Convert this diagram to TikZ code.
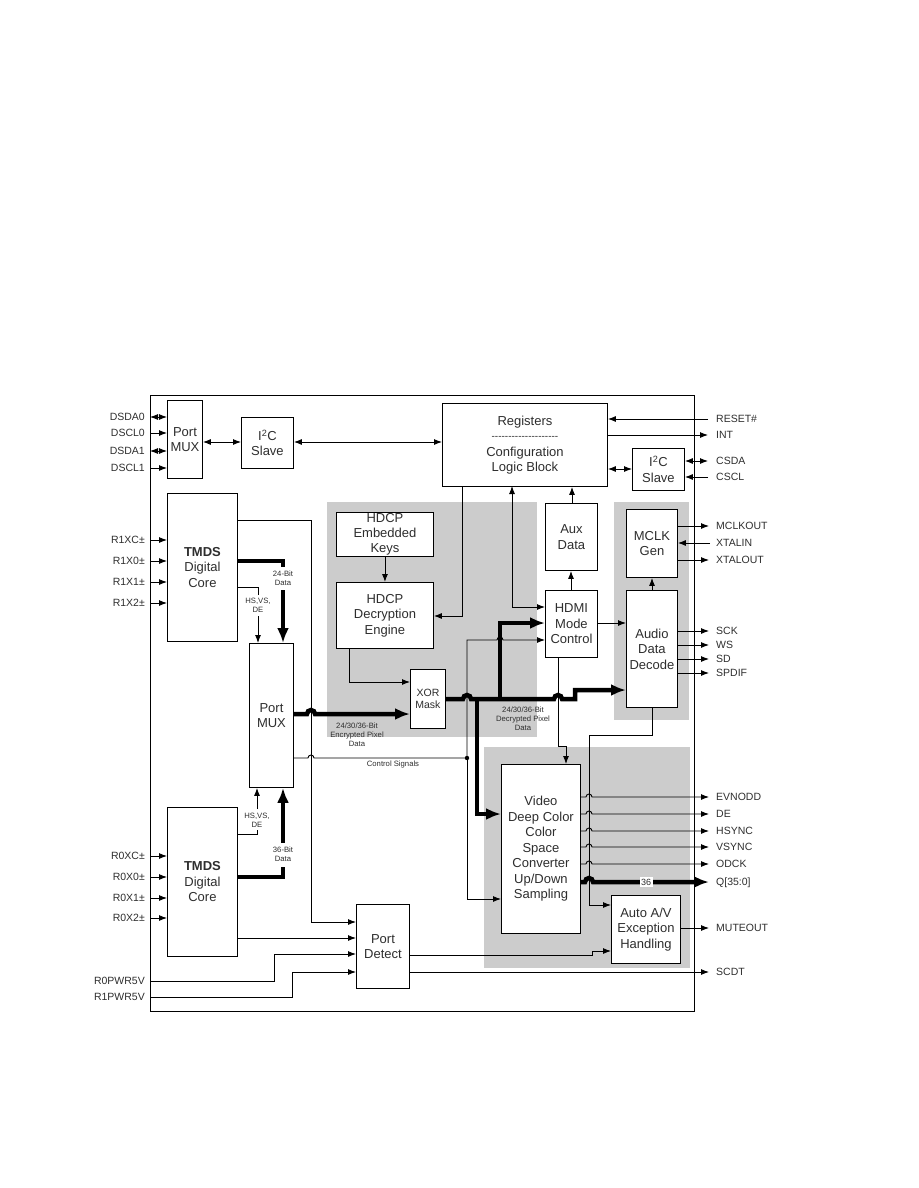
\documentclass[tikz,border=0pt]{standalone}
\usepackage{fontspec}
\setmainfont{Liberation Sans}
\usetikzlibrary{arrows.meta}
\definecolor{txt}{HTML}{2E2E2E}
\definecolor{shadegray}{HTML}{CCCCCC}
\newcommand\dsh{-\kern0pt}
\begin{document}
\begin{tikzpicture}[x=1pt,y=-1pt,
  box/.style={draw, line width=0.9pt, fill=white, inner sep=0pt, anchor=north west, align=center, text=txt, font=\fontsize{13}{15.5}\selectfont},
  ln/.style={line width=0.9pt},
  arr/.style={ln,-{Latex[length=8pt,width=6pt]}},
  barr/.style={ln,{Latex[length=8pt,width=6pt]}-{Latex[length=8pt,width=6pt]}},
  thk/.style={line width=4.5pt},
  tarr/.style={thk,-{Latex[length=15pt,width=12pt]}},
  pinL/.style={anchor=base east, yshift=-3.8pt, text=txt, font=\fontsize{10.5}{12}\selectfont, inner sep=0pt},
  pinR/.style={anchor=base west, yshift=-3.8pt, text=txt, font=\fontsize{10.5}{12}\selectfont, inner sep=0pt},
  small/.style={align=center, text=txt, font=\fontsize{7.7}{9.2}\selectfont, inner sep=0pt},
  region/.style={fill=shadegray, draw=none}
]
\useasboundingbox (0,0) rectangle (918,1188);
% shaded regions
\fill[region] (327,502) rectangle (537,737);
\fill[region] (614,502) rectangle (689,720);
\fill[region] (484,747) rectangle (690,968);
% frame
\draw[ln] (150,395) rectangle (694,1011);

% boxes
\node[box, minimum width=35pt, minimum height=78pt] (pm1) at (167,400) {Port\\MUX};
\node[box, minimum width=52pt, minimum height=51pt] (i2c1) at (241,417) {I\textsuperscript{2}C\\Slave};
\node[box, minimum width=165pt, minimum height=83pt] (regs) at (442,403) {Registers\\[-1pt]{\fontsize{10}{10}\selectfont\dsh\dsh\dsh\dsh\dsh\dsh\dsh\dsh\dsh\dsh\dsh\dsh\dsh\dsh\dsh\dsh\dsh\dsh\dsh\dsh}\\[1pt]Configuration\\Logic Block};
\node[box, minimum width=52pt, minimum height=42pt] (i2c2) at (632,448) {I\textsuperscript{2}C\\Slave};
\node[box, minimum width=70pt, minimum height=148pt] (tmds1) at (167,493) {\textbf{TMDS}\\Digital\\Core};
\node[box, minimum width=97pt, minimum height=44pt, font=\fontsize{13}{15}\selectfont] (keys) at (336,512) {HDCP\\Embedded\\Keys};
\node[box, minimum width=97pt, minimum height=66pt] (dec) at (336,582) {HDCP\\Decryption\\Engine};
\node[box, minimum width=52pt, minimum height=67pt] (aux) at (545,503) {Aux\\Data};
\node[box, minimum width=52pt, minimum height=67pt] (hdmi) at (545,590) {HDMI\\Mode\\Control};
\node[box, minimum width=51pt, minimum height=68pt] (mclk) at (626,509) {MCLK\\Gen};
\node[box, minimum width=51pt, minimum height=117pt] (audio) at (626,590) {Audio\\Data\\Decode};
\node[box, minimum width=44pt, minimum height=144pt] (pm2) at (249,643) {Port\\MUX};
\node[box, minimum width=35pt, minimum height=59pt, font=\fontsize{10.5}{12}\selectfont] (xor) at (410,669) {XOR\\Mask};
\node[box, minimum width=79pt, minimum height=169pt] (video) at (501,764) {Video\\Deep Color\\Color\\Space\\Converter\\Up/Down\\Sampling};
\node[box, minimum width=69pt, minimum height=68pt] (auto) at (611,895) {Auto A/V\\Exception\\Handling};
\node[box, minimum width=70pt, minimum height=149pt] (tmds0) at (167,807) {\textbf{TMDS}\\Digital\\Core};
\node[box, minimum width=53pt, minimum height=84pt] (pdet) at (356,904) {Port\\Detect};

% left pins, port mux
\node[pinL] (lDSDA0) at (145,417) {DSDA0};
\node[pinL] (lDSCL0) at (145,433) {DSCL0};
\node[pinL] (lDSDA1) at (145,451) {DSDA1};
\node[pinL] (lDSCL1) at (145,468) {DSCL1};
\draw[barr] (150,417) -- (pm1.west |- 0,417);
\draw[arr] (150,433) -- (pm1.west |- 0,433);
\draw[barr] (150,451) -- (pm1.west |- 0,451);
\draw[arr] (150,468) -- (pm1.west |- 0,468);
\draw[barr] (pm1.east |- 0,442) -- (i2c1.west |- 0,442);
\draw[barr] (i2c1.east |- 0,442) -- (regs.west |- 0,442);

% top TMDS pins
\node[pinL] (lR1XC) at (145,540) {R1XC±};
\node[pinL] (lR1X0) at (145,561) {R1X0±};
\node[pinL] (lR1X1) at (145,582) {R1X1±};
\node[pinL] (lR1X2) at (145,603) {R1X2±};
\foreach \y in {540,561,582,603} \draw[arr] (150,\y) -- (tmds1.west |- 0,\y);
% bottom TMDS pins
\node[pinL] (lR0XC) at (145,856) {R0XC±};
\node[pinL] (lR0X0) at (145,877) {R0X0±};
\node[pinL] (lR0X1) at (145,898) {R0X1±};
\node[pinL] (lR0X2) at (145,918) {R0X2±};
\foreach \y in {856,877,898,918} \draw[arr] (150,\y) -- (tmds0.west |- 0,\y);
\node[pinL] (lR0P) at (145,981) {R0PWR5V};
\node[pinL] (lR1P) at (145,997) {R1PWR5V};

% right pins
\node[pinR] (lRESET) at (716,419) {RESET\#};
\node[pinR] (lINT) at (716,435) {INT};
\node[pinR] (lCSDA) at (716,461) {CSDA};
\node[pinR] (lCSCL) at (716,477) {CSCL};
\draw[arr] (708,419) -- (regs.east |- 0,419);
\draw[arr] (regs.east |- 0,435) -- (708,435);
\draw[barr] (i2c2.east |- 0,461) -- (708,461);
\draw[arr] (708,477) -- (i2c2.east |- 0,477);
\draw[barr] (regs.east |- 0,469) -- (i2c2.west |- 0,469);

\node[pinR] (lMCLKOUT) at (716,526) {MCLKOUT};
\node[pinR] (lXTALIN) at (716,543) {XTALIN};
\node[pinR] (lXTALOUT) at (716,560) {XTALOUT};
\draw[arr] (mclk.east |- 0,526) -- (709,526);
\draw[arr] (710,543) -- (mclk.east |- 0,543);
\draw[arr] (mclk.east |- 0,560) -- (709,560);
\node[pinR] (lSCK) at (716,631) {SCK};
\node[pinR] (lWS) at (716,645) {WS};
\node[pinR] (lSD) at (716,659) {SD};
\node[pinR] (lSPDIF) at (716,673) {SPDIF};
\foreach \y in {631,645,659,673} \draw[arr] (audio.east |- 0,\y) -- (709,\y);

\node[pinR] (lEVNODD) at (716,797) {EVNODD};
\node[pinR] (lDE) at (716,814) {DE};
\node[pinR] (lHSYNC) at (716,831) {HSYNC};
\node[pinR] (lVSYNC) at (716,847) {VSYNC};
\node[pinR] (lODCK) at (716,864) {ODCK};
\node[pinR] (lQ) at (716,882) {Q[35:0]};
\node[pinR] (lMUTE) at (716,928) {MUTEOUT};
\node[pinR] (lSCDT) at (716,972) {SCDT};
\foreach \y in {797,814,831,847,864}
  \draw[arr] (video.east |- 0,\y) -- (586,\y) arc[start angle=180,end angle=0,radius=3pt] -- (709,\y);
\draw[tarr] (video.east |- 0,882) -- (585,882) arc[start angle=180,end angle=0,radius=4pt] -- (709,882);
\node[fill=white, inner sep=1.5pt, text=txt, font=\fontsize{9}{10}\selectfont] (n36) at (646,882) {36};
\draw[arr] (auto.east |- 0,928) -- (709,928);

% TMDS -> Port MUX
\draw[thk] (tmds1.east |- 0,561) -- (283,561) -- (283,567);
\node[small] (l24) at (283,578) {24-Bit\\Data};
\draw[tarr] (283,590) -- (pm2.north -| 283,0);
\draw[ln] (tmds1.east |- 0,587) -- (258,587) -- (258,595);
\node[small] (lhs1) at (258,605) {HS,VS,\\DE};
\draw[arr] (258,616) -- (pm2.north -| 258,0);

\draw[thk] (tmds0.east |- 0,877) -- (283,877) -- (283,867);
\node[small] (l36) at (283,854) {36-Bit\\Data};
\draw[tarr] (283,843) -- (pm2.south -| 283,0);
\draw[ln] (tmds0.east |- 0,834) -- (257,834) -- (257,830);
\node[small] (lhs0) at (257,820) {HS,VS,\\DE};
\draw[arr] (257,809) -- (pm2.south -| 257,0);

% TMDS -> Port Detect
\draw[arr] (tmds1.east |- 0,520) -- (311,520) -- (311,922) -- (pdet.west |- 0,922);
\draw[arr] (tmds0.east |- 0,938) -- (pdet.west |- 0,938);
\draw[arr] (150,981) -- (274,981) -- (274,954) -- (pdet.west |- 0,954);
\draw[arr] (150,997) -- (292,997) -- (292,972) -- (pdet.west |- 0,972);
\draw[arr] (pdet.east |- 0,955) -- (592,955) -- (592,951) -- (auto.west |- 0,951);
\draw[arr] (pdet.east |- 0,972) -- (709,972);

% Port MUX outputs
\draw[tarr] (pm2.east |- 0,714) -- (307,714) arc[start angle=180,end angle=0,radius=4pt] -- (xor.west |- 0,714);
\node[small] (lenc) at (357,735) {24/30/36-Bit\\Encrypted Pixel\\Data};
\draw[ln] (pm2.east |- 0,758) -- (308,758) arc[start angle=180,end angle=0,radius=3pt] -- (467,758);
\fill (467,758) circle[radius=2.2pt];
\node[small] (lctl) at (393,765) {Control Signals};

% HDCP
\draw[arr] (keys.south) -- (dec.north);
\draw[arr] (462,486) -- (462,616) -- (dec.east |- 0,616);
\draw[arr] (dec.south -| 349,0) -- (349,682) -- (xor.west |- 0,682);

% registers / aux / hdmi
\draw[barr] (512,486) -- (512,607) -- (hdmi.west |- 0,607);
\draw[arr] (aux.north -| 572,0) -- (regs.south -| 572,0);
\draw[arr] (hdmi.north -| 571,0) -- (aux.south -| 571,0);
\draw[arr] (hdmi.east |- 0,623) -- (audio.west |- 0,623);
\draw[arr] (audio.north -| 652,0) -- (mclk.south -| 652,0);

% control signal vertical
\draw[arr] (467,758) -- (467,640) -- (497,640) arc[start angle=180,end angle=0,radius=3pt] -- (hdmi.west |- 0,640);
\draw[arr] (467,758) -- (467,899) -- (video.west |- 0,899);

% HDMI -> video
\draw[arr] (hdmi.south -| 558,0) -- (558,746) -- (566,746) -- (video.north -| 566,0);

% decrypted bus
\draw[tarr] (xor.east |- 0,699) -- (463,699) arc[start angle=180,end angle=0,radius=4pt] -- (554,699) arc[start angle=180,end angle=0,radius=4pt] -- (575,699) -- (575,690) -- (audio.west |- 0,690);
\draw[tarr] (477,699) -- (477,814) -- (video.west |- 0,814);
\draw[tarr] (500,699) -- (500,623) -- (hdmi.west |- 0,623);
\node[small] (ldec) at (523,719) {24/30/36-Bit\\Decrypted Pixel\\Data};

% audio -> auto
\draw[arr] (audio.south -| 652,0) -- (652,735) -- (589,735) -- (589,905) -- (auto.west |- 0,905);
\end{tikzpicture}
\end{document}
